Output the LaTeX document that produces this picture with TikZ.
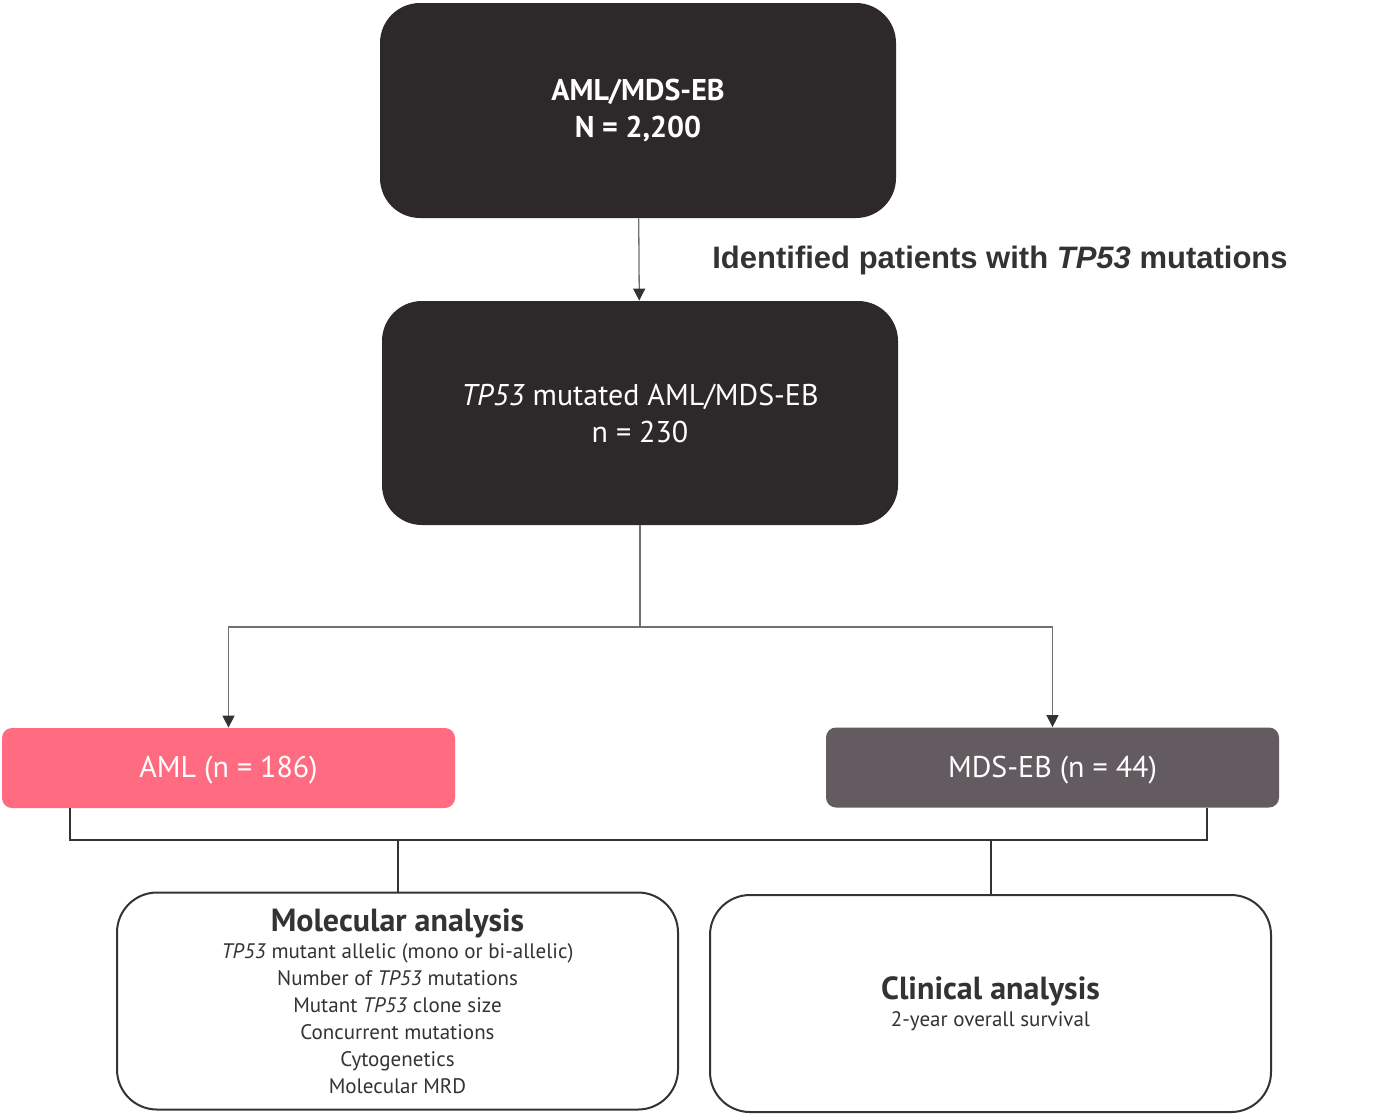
\documentclass[tikz,border=0pt]{standalone}
\usepackage{fontspec}
\setmainfont{PT Sans}
\newfontfamily\labelfont{Liberation Sans}
\usetikzlibrary{positioning,arrows.meta}

\definecolor{boxdark}{HTML}{2D292A}
\definecolor{amlpink}{HTML}{FF6B81}
\definecolor{mdsgray}{HTML}{645B60}
\definecolor{linegray}{HTML}{707070}
\definecolor{textdark}{HTML}{333333}

\begin{document}
\begin{tikzpicture}[x=0.5pt, y=-0.5pt, >={Triangle[length=6pt,width=6pt,color=textdark]},
                    dark node/.style={rectangle, rounded corners=20pt, fill=boxdark, text=white,
                      minimum width=258pt, align=center, font=\fontsize{15}{18.5}\selectfont},
                    group node/.style={rectangle, rounded corners=5pt, text=white,
                      minimum width=226.5pt, minimum height=40pt, text height=12.5pt, text depth=3pt,
                      font=\fontsize{15}{18}\selectfont},
                    result node/.style={rectangle, rounded corners=20pt, draw=textdark, line width=1pt,
                      fill=white, text=textdark, minimum width=280.5pt, minimum height=108.5pt,
                      align=center, font=\fontsize{10.5}{13.5}\selectfont},
                    arrow line/.style={draw=linegray, line width=0.65pt},
                    join line/.style={draw=textdark, line width=1pt}]

  \useasboundingbox (0,0) rectangle (1379,1115);

  \node[dark node, minimum height=107.5pt] (all) at (638,110.5)
    {\textbf{AML/MDS-EB}\\\textbf{N = 2,200}};
  \node[dark node, minimum height=112pt] (mut) at (640,413)
    {\textit{TP53} mutated AML/MDS-EB\\n = 230};

  \node[group node, fill=amlpink] (aml) at (228.5,768) {AML (n = 186)};
  \node[group node, fill=mdsgray] (mds) at (1052.5,767.5) {MDS-EB (n = 44)};

  \node[result node] (mol) at (397.5,1001)
    {{\fontsize{16}{18}\selectfont\bfseries Molecular analysis}\\
     \textit{TP53} mutant allelic (mono or bi-allelic)\\
     Number of \textit{TP53} mutations\\
     Mutant \textit{TP53} clone size\\
     Concurrent mutations\\
     Cytogenetics\\
     Molecular MRD};
  \node[result node] (clin) at (990.5,1003.5)
    {{\fontsize{16}{18}\selectfont\bfseries Clinical analysis}\\
     2-year overall survival};

  \node[text=textdark, font=\labelfont\bfseries\fontsize{15.5}{18}\selectfont] (find) at (1000,260)
    {Identified patients with \textit{TP53} mutations};

  % connectors
  \coordinate (split) at (640,627);
  \coordinate (bl) at (70,840);
  \coordinate (br) at (1207,840);

  \draw[arrow line, ->] (all) -- (mut);
  \draw[arrow line] (mut.south) -- (split);
  \draw[arrow line, ->] (split) -| (aml.north);
  \draw[arrow line, ->] (split) -| (mds.north);

  \draw[join line] (aml.south -| bl) |- (br) -- (mds.south -| br);
  \draw[join line] (mol.north) -- (mol.north |- bl);
  \draw[join line] (clin.north) -- (clin.north |- br);
\end{tikzpicture}
\end{document}
